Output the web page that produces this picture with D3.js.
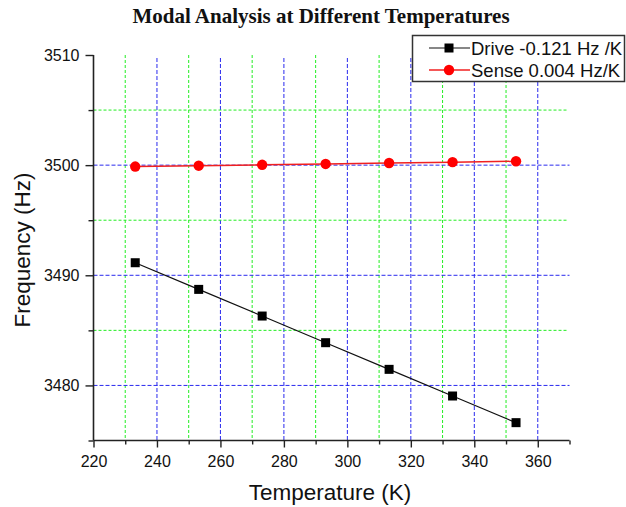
<!DOCTYPE html>
<html><head><meta charset="utf-8">
<script src="https://cdn.jsdelivr.net/npm/d3@7"></script>
<style>body{margin:0;background:#fff}svg{display:block}</style>
</head><body><div id="c"></div>
<script>
const temperatures = [233.15, 253.15, 273.15, 293.15, 313.15, 333.15, 353.15];
const driveValues = [3491.14, 3488.72, 3486.30, 3483.88, 3481.46, 3479.04, 3476.62];
const senseValues = [3499.87, 3499.95, 3500.03, 3500.11, 3500.19, 3500.27, 3500.35];
const seriesNames = ["Drive -0.121 Hz /K", "Sense 0.004 Hz/K"];
const xMajorTicks = [220, 240, 260, 280, 300, 320, 340, 360];
const xMinorTicks = [230, 250, 270, 290, 310, 330, 350, 370];
const yMajorTicks = [3480, 3490, 3500, 3510];
const yMinorTicks = [3475, 3485, 3495, 3505];
const titleText = "Modal Analysis at Different Temperatures";
const xTitle = "Temperature (K)";
const yTitle = "Frequency (Hz)";

const W = 626, H = 507;
const L = 93.5, R = 569.5, T = 55, B = 440.5;
const svg = d3.select("#c").append("svg").attr("width", W).attr("height", H);
const x = d3.scaleLinear().domain([220, 370]).range([L, R]);
const y = d3.scaleLinear().domain([3475, 3510]).range([B, T]);

// grid
const g = svg.append("g");
g.selectAll(".vmin").data(xMinorTicks.filter(d => d < 370)).join("line")
  .attr("x1", d => x(d)).attr("x2", d => x(d)).attr("y1", T).attr("y2", B)
  .attr("stroke", "#22ee22").attr("stroke-width", 1).attr("stroke-dasharray", "3,2");
g.selectAll(".vmaj").data(xMajorTicks.filter(d => d > 220)).join("line")
  .attr("x1", d => x(d)).attr("x2", d => x(d)).attr("y1", T + 3).attr("y2", B)
  .attr("stroke", "#2a2aee").attr("stroke-width", 1).attr("stroke-dasharray", "4,2");
g.selectAll(".hmin").data(yMinorTicks.filter(d => d > 3475)).join("line")
  .attr("x1", L).attr("x2", R - 2).attr("y1", d => y(d)).attr("y2", d => y(d))
  .attr("stroke", "#22ee22").attr("stroke-width", 1).attr("stroke-dasharray", "3,2");
g.selectAll(".hmaj").data(yMajorTicks.filter(d => d < 3510)).join("line")
  .attr("x1", L).attr("x2", R).attr("y1", d => y(d)).attr("y2", d => y(d))
  .attr("stroke", "#2a2aee").attr("stroke-width", 1).attr("stroke-dasharray", "4,2");

// axes
const font = "Arial, 'Liberation Sans', sans-serif";
const xAxis = svg.append("g").attr("transform", `translate(0,${B})`)
  .call(d3.axisBottom(x).tickValues(xMajorTicks).tickSize(7).tickPadding(8).tickFormat(d3.format("d")));
svg.append("g").attr("transform", `translate(0,${B})`)
  .call(d3.axisBottom(x).tickValues(xMinorTicks).tickSize(4).tickFormat(""))
  .call(a => a.select(".domain").remove());
const yAxis = svg.append("g").attr("transform", `translate(${L},0)`)
  .call(d3.axisLeft(y).tickValues(yMajorTicks).tickSize(8).tickPadding(6).tickFormat(d3.format("d")));
svg.append("g").attr("transform", `translate(${L},0)`)
  .call(d3.axisLeft(y).tickValues(yMinorTicks).tickSize(5).tickFormat(""))
  .call(a => a.select(".domain").remove());
svg.selectAll(".domain").attr("stroke", "#222").attr("stroke-width", 1.6);
svg.selectAll(".tick line").attr("stroke", "#222").attr("stroke-width", 1.4);
svg.selectAll(".tick text").attr("font-family", font).attr("font-size", 16).attr("fill", "#111");
xAxis.select(".domain").attr("d", `M${L},0H${R}`);
yAxis.select(".domain").attr("d", `M0,${T}V${B}`);

// lines
const lineGen = vals => d3.line().x((d, i) => x(temperatures[i])).y(d => y(d))(vals);
svg.append("path").attr("d", lineGen(driveValues)).attr("fill", "none").attr("stroke", "#111").attr("stroke-width", 1.2);
svg.append("path").attr("d", lineGen(senseValues)).attr("fill", "none").attr("stroke", "#f02020").attr("stroke-width", 1.5);
svg.selectAll(".sq").data(driveValues).join("rect")
  .attr("x", (d, i) => x(temperatures[i]) - 4.5).attr("y", d => y(d) - 4.5)
  .attr("width", 9).attr("height", 9).attr("fill", "#000");
svg.selectAll(".ci").data(senseValues).join("circle")
  .attr("cx", (d, i) => x(temperatures[i])).attr("cy", d => y(d)).attr("r", 5.2).attr("fill", "#ff0000");

// legend
const lg = svg.append("g");
lg.append("rect").attr("x", 412.5).attr("y", 35.5).attr("width", 212).attr("height", 46)
  .attr("fill", "#fff").attr("stroke", "#333").attr("stroke-width", 1.5);
[0, 1].forEach(i => {
  const yy = 48 + i * 22;
  lg.append("line").attr("x1", 429).attr("x2", 470).attr("y1", yy).attr("y2", yy)
    .attr("stroke", i ? "#f02020" : "#111").attr("stroke-width", i ? 1.5 : 1.2);
  if (i) lg.append("circle").attr("cx", 449).attr("cy", yy).attr("r", 5.2).attr("fill", "#ff0000");
  else lg.append("rect").attr("x", 444.5).attr("y", yy - 4.5).attr("width", 9).attr("height", 9).attr("fill", "#000");
  lg.append("text").attr("x", 471).attr("y", yy + 6.5).attr("font-family", font).attr("font-size", 18.5)
    .attr("fill", "#111").text(seriesNames[i]);
});

// titles
svg.append("text").attr("x", 321).attr("y", 23).attr("text-anchor", "middle")
  .attr("font-family", "'Liberation Serif', 'Times New Roman', serif").attr("font-weight", "bold")
  .attr("font-size", 21).attr("fill", "#111").text(titleText);
svg.append("text").attr("x", 330).attr("y", 500).attr("text-anchor", "middle")
  .attr("font-family", font).attr("font-size", 22.5).attr("fill", "#111").text(xTitle);
svg.append("text").attr("transform", "translate(30,250) rotate(-90)").attr("text-anchor", "middle")
  .attr("font-family", font).attr("font-size", 22.5).attr("fill", "#111").text(yTitle);
</script></body></html>
